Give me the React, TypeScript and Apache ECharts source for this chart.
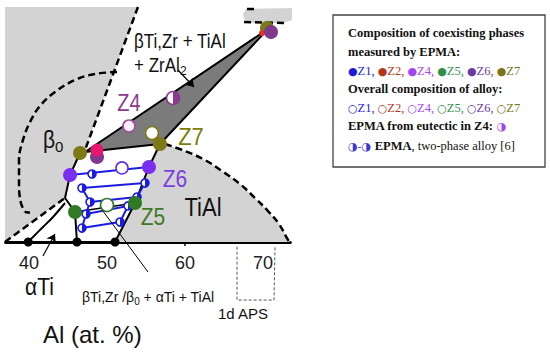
import React, { useEffect, useRef } from 'react';
import * as echarts from 'echarts';

// x: Al (at. %); y: hidden second composition coordinate drawn at the same scale
const xTickLabels = [40, 50, 60, 70];

// phase regions (polygons)
const alphaBetaGrayRegion = [[36.92, 30.13], [53.97, 30.13], [47.18, 11.79], [46.54, 11.41], [45.26, 8.59], [44.62, 5.64], [36.92, 0]];
const tiAlGrayRegion = [[56.79, 12.56], [57.44, 12.56], [60.0, 11.67], [62.56, 10.51], [64.74, 9.1], [67.05, 7.44], [68.97, 5.64], [70.64, 3.97], [72.05, 2.31], [73.21, 0.26], [73.46, 0], [51.03, 0], [53.59, 5.0], [55.38, 9.62]];
const zrAl2GrayRegion = [[67.82, 29.87], [73.72, 30.0], [73.72, 28.46], [72.69, 28.08], [68.33, 28.08], [67.56, 28.59], [67.44, 29.23]];
const threePhaseTriangle = [[47.18, 11.54], [70.64, 27.31], [56.79, 12.56]];

// boundaries
const steepDashed = [[53.97, 30.13], [47.18, 11.79]];
const beta0Arc = [[51.28, 21.79], [48.46, 21.54], [45.9, 20.77], [43.33, 19.23], [41.41, 17.44], [40.13, 15.38], [39.23, 13.08], [38.72, 10.51], [38.72, 7.31], [38.97, 5.0], [39.49, 3.85]];
const beta0ArcFoot = [[39.49, 3.85], [40.38, 3.72]];
const alphaDashed = [[36.92, 0], [44.62, 5.64]];
const alphaSolid = [[39.87, 0], [41.79, 1.92], [43.08, 3.21], [44.62, 5.0]];
const tiAlDashed = [[57.44, 12.56], [60.0, 11.67], [62.56, 10.51], [64.74, 9.1], [67.05, 7.44], [68.97, 5.64], [70.64, 3.97], [72.05, 2.31], [73.21, 0.26], [73.46, 0]];
const zrAl2DashedA = [[67.95, 29.87], [69.36, 29.87]];
const zrAl2DashedB = [[67.56, 28.21], [72.69, 28.08]];
const leftSolid = [[46.54, 11.41], [45.26, 8.59], [44.62, 5.64], [45.9, 3.85], [46.15, 0]];
const rightSolid = [[56.79, 12.56], [55.38, 9.62], [53.59, 5.0], [51.03, 0]];
const z5Tie = [[45.9, 3.85], [53.59, 5.0]];
const z6Tie = [[45.26, 8.59], [55.38, 9.62]];

// EPMA two-phase alloy tie lines
const epmaTies = [
  [[46.79, 6.92], [54.87, 7.56]],
  [[47.82, 5.13], [53.85, 5.77]],
  [[47.31, 3.59], [52.69, 4.62]],
  [[46.79, 1.79], [51.67, 2.56]],
];
const epmaLeftEdge = [[46.79, 6.92], [47.82, 5.13], [47.31, 3.59], [46.79, 1.79]];
const epmaRightEdge = [[54.87, 7.56], [53.85, 5.77], [52.69, 4.62], [51.67, 2.56]];
const epmaMarkers = [[48.08, 8.72], [46.79, 6.92], [54.87, 7.56], [47.82, 5.13], [53.85, 5.77], [47.31, 3.59], [52.69, 4.62], [46.79, 1.79], [51.67, 2.56]];

// measured phases (filled)
const z7Phases = [[56.79, 12.56], [46.54, 11.41], [70.51, 27.44]];
const z2Phases = [[48.72, 11.79]];
const z2SmallPhases = [[69.87, 26.79]];
const darkPurplePhases = [[48.72, 10.9], [71.03, 26.92]];
const z6Phases = [[45.26, 8.59], [55.38, 9.62]];
const z5Phases = [[45.9, 3.85], [53.59, 5.0]];
// overall alloy compositions (open)
const z7Alloy = [[55.77, 13.97]];
const z4Alloy = [[52.82, 14.87]];
const z6Alloy = [[51.92, 9.49]];
const z5Alloy = [[50.0, 4.74]];
const z4Eutectic = [[58.46, 18.46]];
const axisDots = [[39.9, 0], [46.15, 0], [51.03, 0]];

// annotation arrows
const zrAl2Arrow = [[59.1, 22.05], [61.15, 19.87]];
const alphaArrow = [[41.79, -1.79], [43.33, 1.03]];
const threePhaseLeader = [[55.26, -3.85], [49.1, 4.49]];
const apsBracket = [[66.67, -0.6], [66.67, -7.44], [71.41, -7.44], [71.54, -0.6]];

const LG = '#d3d3d3';
const SANS = 'Liberation Sans, Arial, sans-serif';
const SERIF = 'Liberation Serif, Times New Roman, serif';
const HALF = 'path://M0,0 A10,10 0 0,1 0,20 Z';

const regions = [
  { pts: alphaBetaGrayRegion, fill: LG },
  { pts: tiAlGrayRegion, fill: LG },
  { pts: zrAl2GrayRegion, fill: LG },
  { pts: threePhaseTriangle, fill: '#7b7b7b', stroke: '#000', lw: 2 },
];

const line = (data: number[][], color: string, width: number, type: any = 'solid', smooth: any = false, z = 3) => ({
  type: 'line', data, symbol: 'none', smooth, clip: false, silent: true, z,
  lineStyle: { color, width, type },
});
const dots = (data: number[][], color: string, size: number, z = 6) => ({
  type: 'scatter', data, symbol: 'circle', symbolSize: size, clip: false, silent: true, z,
  itemStyle: { color, opacity: 1 },
});
const openDots = (data: number[][], color: string, size: number, z = 6, fill = '#fff') => ({
  type: 'scatter', data, symbol: 'circle', symbolSize: size, clip: false, silent: true, z,
  itemStyle: { color: fill, borderColor: color, borderWidth: 1.6, opacity: 1 },
});
const halfDots = (data: number[][], color: string, size: number, z = 7) => ({
  type: 'scatter', data, symbol: HALF, symbolSize: [size / 2, size], symbolOffset: [size / 4, 0],
  clip: false, silent: true, z, itemStyle: { color, opacity: 1 },
});

const txt = (text: string, x: number, y: number, size: number, color = '#111', o: any = {}) => ({
  type: 'text', x, y, z: 100, silent: true, scaleX: o.sx ?? 1, scaleY: o.sy ?? 1,
  style: {
    text, fill: color, fontSize: size, fontFamily: o.family ?? SANS, fontWeight: o.weight ?? 'normal',
    align: o.align ?? 'left', textAlign: o.align ?? 'left', verticalAlign: 'middle', textVerticalAlign: 'middle',
    rich: o.rich,
  },
});

const LEG: Record<string, string> = { Z1: '#1b1bd9', Z2: '#b5341c', Z4: '#a444f2', Z5: '#2f8f49', Z6: '#6b3a9e', Z7: '#7a7416' };
const legRich = (() => {
  const r: any = {};
  Object.entries(LEG).forEach(([k, c]) => {
    r[k] = { fill: c, fontSize: 12.5, fontFamily: SERIF };
    r[k + 's'] = { fill: c, fontSize: 11, fontFamily: 'DejaVu Sans' };
  });
  r.b = { fill: '#111', fontSize: 12.5, fontFamily: SERIF, fontWeight: 'bold' };
  r.n = { fill: '#111', fontSize: 12.5, fontFamily: SERIF };
  r.v = { fill: '#a444f2', fontSize: 11, fontFamily: 'DejaVu Sans' };
  r.bl = { fill: '#3a3ad0', fontSize: 11, fontFamily: 'DejaVu Sans' };
  return r;
})();
const legendKeys = ['Z1', 'Z2', 'Z4', 'Z5', 'Z6', 'Z7'];
const filledLine = legendKeys.map((k, i) => `{${k}s|●}{${k}|${k}${i < 5 ? ', ' : ''}}`).join('');
const openLine = legendKeys.map((k, i) => `{${k}s|○}{${k}|${k}${i < 5 ? ', ' : ''}}`).join('');

export default function App() {
  const ref = useRef<HTMLDivElement>(null);
  useEffect(() => {
    const chart = echarts.init(ref.current!, null, { renderer: 'svg' });
    const option: any = {
      animation: false,
      backgroundColor: '#fff',
      grid: { left: 5.6, top: 0.2, width: 284.7, height: 241.8 },
      xAxis: {
        type: 'value', min: 37, max: 73.5,
        axisLine: { show: true, onZero: false, lineStyle: { color: '#000', width: 3 } },
        axisTick: { show: true, customValues: [60], length: 4, lineStyle: { color: '#000', width: 1.5 } },
        axisLabel: { customValues: xTickLabels, fontSize: 18, color: '#222', fontFamily: SANS, margin: 12 },
        splitLine: { show: false },
      },
      yAxis: { type: 'value', min: 0, max: 31, show: false, splitLine: { show: false } },
      series: [
        {
          type: 'custom', coordinateSystem: 'cartesian2d', clip: false, silent: true, z: 1,
          data: regions.map((_, i) => [50, 10, i]),
          renderItem: (params: any, api: any) => {
            const s: any = regions[params.dataIndex];
            return {
              type: 'polygon',
              shape: { points: s.pts.map((p: number[]) => api.coord(p)) },
              style: { fill: s.fill, stroke: s.stroke || 'none', lineWidth: s.lw || 0, lineJoin: 'round' },
            };
          },
        },
        line(steepDashed, '#000', 2.5, [7, 4]),
        line(beta0Arc, '#000', 2.5, [7, 4], 0.4),
        line(beta0ArcFoot, '#000', 2.5, [5, 3]),
        line(alphaDashed, '#000', 2.5, [7, 4]),
        line(alphaSolid, '#000', 2, 'solid', 0.4),
        line(tiAlDashed, '#000', 2.5, [7, 4], 0.4),
        line(zrAl2DashedA, '#000', 2.5, [7, 4]),
        line(zrAl2DashedB, '#000', 2.5, [7, 4]),
        line(leftSolid, '#000', 2),
        line(rightSolid, '#000', 2),
        line(z5Tie, '#000', 1.5, 'solid', false, 4),
        line(z6Tie, '#1c1ce0', 2, 'solid', false, 4),
        ...epmaTies.map((t) => line(t, '#1c1ce0', 2, 'solid', false, 4)),
        line(epmaLeftEdge, '#1c1ce0', 2, 'solid', false, 4),
        line(epmaRightEdge, '#1c1ce0', 2, 'solid', false, 4),
        openDots(epmaMarkers, '#1c1ce0', 8, 5),
        halfDots(epmaMarkers, '#1c1ce0', 8, 5),
        {
          type: 'lines', coordinateSystem: 'cartesian2d', clip: false, silent: true, z: 5, symbol: ['none', 'arrow'], symbolSize: 8,
          lineStyle: { color: '#000', width: 1.2, opacity: 1 },
          data: [{ coords: zrAl2Arrow }, { coords: alphaArrow }],
        },
        {
          type: 'lines', coordinateSystem: 'cartesian2d', clip: false, silent: true, z: 5, symbol: 'none',
          lineStyle: { color: '#000', width: 1, opacity: 1 },
          data: [{ coords: threePhaseLeader }],
        },
        {
          type: 'lines', coordinateSystem: 'cartesian2d', clip: false, polyline: true, silent: true, z: 5,
          symbol: ['arrow', 'arrow'], symbolSize: 7,
          lineStyle: { color: '#555', width: 1, type: [3, 2], opacity: 1 },
          data: [{ coords: apsBracket }],
        },
        dots(axisDots, '#000', 9, 6),
        dots(z7Phases, '#7c7a14', 14, 6),
        dots(darkPurplePhases, '#7f3a8c', 14, 7),
        dots(z2Phases, '#e5176f', 13, 8),
        dots(z2SmallPhases, '#e53020', 6, 6),
        dots(z6Phases, '#7a2ef0', 14, 6),
        dots(z5Phases, '#2f7a22', 14, 6),
        openDots(z7Alloy, '#7c7a14', 13, 7),
        openDots(z4Alloy, '#9a4f98', 12, 7, '#fbeefb'),
        openDots(z6Alloy, '#6a30e0', 12, 7),
        openDots(z5Alloy, '#2f7a22', 13, 7),
        openDots(z4Eutectic, '#8c3a8e', 13, 7),
        halfDots(z4Eutectic, '#8c3a8e', 13, 8),
      ],
      graphic: [
        txt('βTi,Zr + TiAl', 134, 41, 17, '#111', { sy: 1.15 }),
        txt('+ ZrAl', 134, 65, 17, '#111', { sy: 1.15 }),
        txt('2', 180, 71, 12, '#111'),
        txt('Z4', 129, 103, 20, '#8c3a8e', { align: 'center', sy: 1.15 }),
        txt('Z7', 191, 137, 22, '#7d7d0a', { align: 'center', sy: 1.1 }),
        txt('Z6', 175, 179, 21, '#7b3fe0', { align: 'center', sy: 1.1 }),
        txt('Z5', 153, 217, 21, '#3d7a22', { align: 'center', sy: 1.1 }),
        txt('TiAl', 203, 207, 22, '#111', { align: 'center', sy: 1.2 }),
        txt('β', 43, 140, 21, '#111', { sy: 1.1 }),
        txt('0', 55, 146, 15, '#111'),
        txt('αTi', 25, 287, 21, '#111', { sy: 1.1 }),
        txt('{n|βTi,Zr /β}{s|0}{n| + αTi + TiAl}', 82, 297, 14, '#111', {
          rich: { n: { fontSize: 14, fill: '#111', fontFamily: SANS }, s: { fontSize: 10, fill: '#111', fontFamily: SANS, padding: [8, 0, 0, 0] } },
        }),
        txt('1d APS', 218, 313, 15, '#111'),
        txt('Al (at. %)', 43, 334, 24, '#111'),
        {
          type: 'rect', z: 90, silent: true,
          shape: { x: 333, y: 15, width: 212, height: 152 },
          style: { fill: '#fff', stroke: '#444', lineWidth: 1.3 },
        },
        txt('Composition of coexisting phases', 348, 33, 12.5, '#111', { family: SERIF, weight: 'bold' }),
        txt('measured by EPMA:', 348, 52, 12.5, '#111', { family: SERIF, weight: 'bold' }),
        txt(filledLine, 348, 71, 12.5, '#111', { family: SERIF, rich: legRich }),
        txt('Overall composition of alloy:', 348, 89, 12.5, '#111', { family: SERIF, weight: 'bold' }),
        txt(openLine, 348, 108, 12.5, '#111', { family: SERIF, rich: legRich }),
        txt('{b|EPMA from eutectic in Z4: }{v|◑}', 348, 126, 12.5, '#111', { family: SERIF, rich: legRich }),
        txt('{bl|◑-◑ }{b|EPMA}{n|, two-phase alloy [6]}', 348, 146, 12.5, '#111', { family: SERIF, rich: legRich }),
      ],
    };
    chart.setOption(option);
    return () => chart.dispose();
  }, []);
  return <div ref={ref} style={{ position: 'fixed', left: 0, top: 0, width: 550, height: 354, background: '#fff' }} />;
}
